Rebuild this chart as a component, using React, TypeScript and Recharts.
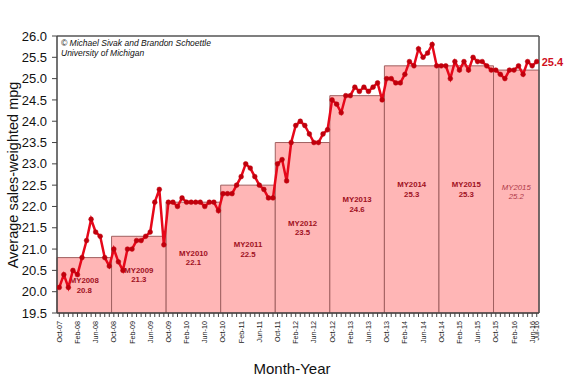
import React from 'react';
import { ComposedChart, Line, XAxis, YAxis, ReferenceArea, ReferenceLine } from 'recharts';

// Monthly sales-weighted mpg, Oct-07 (index 0) .. Jul-16 (index 105)
const mpgValues: number[] = [
  20.1, 20.4, 20.1, 20.5, 20.4, 20.8, 21.2, 21.7, 21.4, 21.3, 20.8, 20.6,
  21.0, 20.7, 20.5, 21.0, 21.0, 21.2, 21.2, 21.3, 21.4, 22.1, 22.4, 21.1,
  22.1, 22.1, 22.0, 22.2, 22.1, 22.1, 22.1, 22.1, 22.0, 22.1, 22.1, 21.9,
  22.3, 22.3, 22.3, 22.5, 22.7, 23.0, 22.9, 22.7, 22.5, 22.4, 22.2, 22.2,
  23.0, 23.1, 22.6, 23.5, 23.9, 24.0, 23.9, 23.7, 23.5, 23.5, 23.7, 23.8,
  24.5, 24.4, 24.2, 24.6, 24.6, 24.8, 24.7, 24.8, 24.7, 24.8, 24.9, 24.5,
  25.0, 25.0, 24.9, 24.9, 25.1, 25.4, 25.3, 25.7, 25.5, 25.6, 25.8, 25.3,
  25.3, 25.3, 25.0, 25.4, 25.2, 25.4, 25.2, 25.5, 25.4, 25.4, 25.3, 25.2,
  25.2, 25.1, 25.0, 25.2, 25.2, 25.3, 25.1, 25.4, 25.3, 25.4,
];

// Model-year blocks
const modelYears: string[] = ['MY2008', 'MY2009', 'MY2010', 'MY2011', 'MY2012', 'MY2013', 'MY2014', 'MY2015', 'MY2015'];
const modelYearAvg: number[] = [20.8, 21.3, 22.1, 22.5, 23.5, 24.6, 25.3, 25.3, 25.2];
const modelYearStart: number[] = [0, 12, 24, 36, 48, 60, 72, 84, 96];
const modelYearEnd: number[] = [12, 24, 36, 48, 60, 72, 84, 96, 106];
const modelYearPartial: boolean[] = [false, false, false, false, false, false, false, false, true];

// X tick labels
const xTickPositions: number[] = [0, 4, 8, 12, 16, 20, 24, 28, 32, 36, 40, 44, 48, 52, 56, 60, 64, 68, 72, 76, 80, 84, 88, 92, 96, 100, 104, 105];
const xTickLabels: string[] = [
  'Oct-07', 'Feb-08', 'Jun-08', 'Oct-08', 'Feb-09', 'Jun-09', 'Oct-09', 'Feb-10', 'Jun-10',
  'Oct-10', 'Feb-11', 'Jun-11', 'Oct-11', 'Feb-12', 'Jun-12', 'Oct-12', 'Feb-13', 'Jun-13',
  'Oct-13', 'Feb-14', 'Jun-14', 'Oct-14', 'Feb-15', 'Jun-15', 'Oct-15', 'Feb-16', 'Jun-16', 'Jul-16',
];
const yTicks: number[] = [19.5, 20.0, 20.5, 21.0, 21.5, 22.0, 22.5, 23.0, 23.5, 24.0, 24.5, 25.0, 25.5, 26.0];

const FONT = '"Liberation Sans", Arial, Helvetica, sans-serif';

const data = mpgValues.map((v, i) => ({ m: i, mpg: v }));
const allMonthTicks = mpgValues.map((_, i) => i);
const labelMap = new Map<number, string>();
xTickPositions.forEach((p, i) => labelMap.set(p, xTickLabels[i]));

const XTick = (props: any) => {
  const { x, y, payload } = props;
  const lbl = labelMap.get(payload.value);
  if (!lbl) return null;
  const ty = y + 2;
  return (
    <text
      x={x}
      y={ty}
      transform={`rotate(-90, ${x}, ${ty})`}
      textAnchor="end"
      dy="0.35em"
      fontSize={7.2}
      fill="#222"
      fontFamily={FONT}
    >
      {lbl}
    </text>
  );
};

const makeBarLabel = (name: string, val: number, partial: boolean) => (props: any) => {
  const vb = props.viewBox || {};
  const cx = vb.x + vb.width / 2;
  const cy = vb.y + vb.height / 2;
  return (
    <text
      textAnchor="middle"
      fontSize={7.8}
      fontWeight={partial ? 'normal' : 'bold'}
      fontStyle={partial ? 'italic' : 'normal'}
      fill={partial ? '#b03a4a' : '#a0101e'}
      fontFamily={FONT}
    >
      <tspan x={cx} y={cy - 2}>{name}</tspan>
      <tspan x={cx} y={cy + 7.5}>{val.toFixed(1)}</tspan>
    </text>
  );
};

const lastIndex = mpgValues.length - 1;
const LastLabel = (props: any) => {
  const { x, y, index, value } = props;
  if (index !== lastIndex) return null;
  return (
    <text x={x + 5} y={y + 4} fontSize={11} fontWeight="bold" fill="#d0101c" fontFamily={FONT}>
      {Number(value).toFixed(1)}
    </text>
  );
};

export default function App() {
  return (
    <div style={{ position: 'absolute', left: 0, top: 0, width: 570, height: 380, background: '#fff' }}>
      <ComposedChart
        width={570}
        height={380}
        data={data}
        margin={{ top: 36, right: 31, bottom: 0, left: 0 }}
      >
        <XAxis
          dataKey="m"
          type="number"
          domain={[-0.5, 105.5]}
          ticks={allMonthTicks}
          interval={0}
          tickSize={4}
          height={67}
          tick={<XTick />}
          axisLine={{ stroke: '#444', strokeWidth: 1.5 }}
          tickLine={{ stroke: '#444', strokeWidth: 1 }}
          allowDataOverflow
        />
        <YAxis
          type="number"
          domain={[19.5, 26]}
          ticks={yTicks}
          width={57}
          tickSize={5}
          tickMargin={5}
          tickFormatter={(v: number) => v.toFixed(1)}
          tick={{ fontSize: 13, fill: '#111', fontFamily: FONT }}
          axisLine={{ stroke: '#444', strokeWidth: 1.5 }}
          tickLine={{ stroke: '#444', strokeWidth: 1 }}
          allowDataOverflow
        />
        {modelYears.map((name, i) => (
          <ReferenceArea
            key={i}
            x1={modelYearStart[i] - 0.5}
            x2={modelYearEnd[i] - 0.5}
            y1={19.5}
            y2={modelYearAvg[i]}
            fill="#ffb6b6"
            fillOpacity={1}
            stroke="#a06060"
            strokeWidth={1}
            label={makeBarLabel(name, modelYearAvg[i], modelYearPartial[i])}
          />
        ))}
        <ReferenceLine y={26} stroke="#555" strokeWidth={1.5} />
        <ReferenceLine x={105.5} stroke="#555" strokeWidth={1.5} />
        <Line
          type="linear"
          dataKey="mpg"
          stroke="#e6081a"
          strokeWidth={2.5}
          dot={{ r: 2.4, fill: '#c0000c', stroke: '#c0000c', strokeWidth: 0.5 }}
          activeDot={false}
          isAnimationActive={false}
          label={<LastLabel />}
        />
      </ComposedChart>
      <div
        style={{
          position: 'absolute',
          left: 61,
          top: 38,
          fontFamily: FONT,
          fontStyle: 'italic',
          fontSize: 8.5,
          lineHeight: '10px',
          color: '#111',
          whiteSpace: 'nowrap',
        }}
      >
        © Michael Sivak and Brandon Schoettle
        <br />
        University of Michigan
      </div>
      <div
        style={{
          position: 'absolute',
          left: 13,
          top: 175,
          transform: 'translate(-50%, -50%) rotate(-90deg)',
          fontFamily: FONT,
          fontSize: 14.5,
          color: '#111',
          whiteSpace: 'nowrap',
        }}
      >
        Average sales-weighted mpg
      </div>
      <div
        style={{
          position: 'absolute',
          left: 292,
          top: 368,
          transform: 'translate(-50%, -50%)',
          fontFamily: FONT,
          fontSize: 15,
          color: '#111',
          whiteSpace: 'nowrap',
        }}
      >
        Month-Year
      </div>
    </div>
  );
}
